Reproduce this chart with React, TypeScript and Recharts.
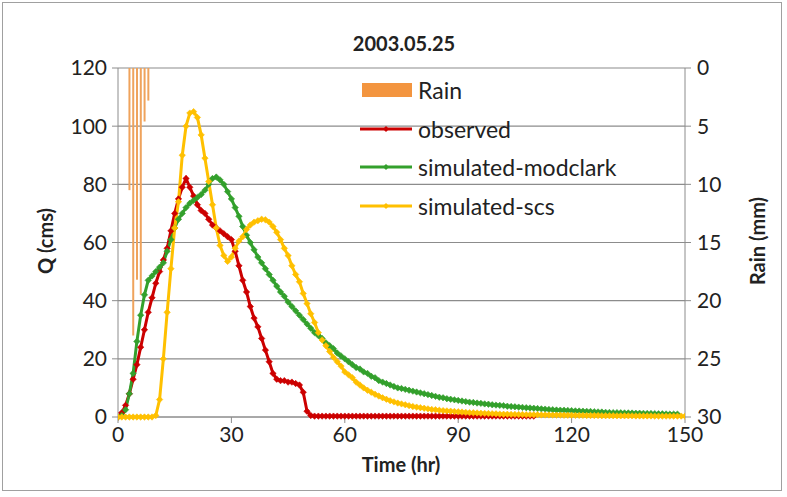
import React from 'react';
import { ComposedChart, Line, Bar, XAxis, YAxis, CartesianGrid } from 'recharts';

const FONT = 'Lato, "Open Sans", "Liberation Sans", sans-serif';

const hours: number[] = Array.from({ length: 151 }, (_, i) => i);

const rain: number[] = [0, 0, 0, 10.5, 23, 18.2, 19.5, 4.6, 2.8];

const observed: number[] = [
  0, 1.5, 4, 8, 13, 18, 24, 30, 36, 41, 46, 50, 54, 58, 64, 70, 75, 79, 82, 79,
  76, 73, 71, 70, 68, 66, 65, 64, 63, 62, 61, 57, 52, 47, 43, 38, 34, 31, 27, 23,
  19, 15, 13, 12.5, 12.5, 12, 12, 11.5, 11, 8.5, 2, 0.5,
  0.3, 0.3, 0.3, 0.3, 0.3, 0.3, 0.3, 0.3, 0.3, 0.3, 0.3, 0.3, 0.3, 0.3, 0.3, 0.3,
  0.3, 0.3, 0.3, 0.3, 0.3, 0.3, 0.3, 0.3, 0.3, 0.3, 0.3, 0.3, 0.3, 0.3, 0.3, 0.3,
  0.3, 0.3, 0.3, 0.3, 0.3, 0.3, 0.3, 0.3, 0.3, 0.3, 0.3, 0.3, 0.3, 0.3, 0.3, 0.3,
  0.3, 0.3, 0.3, 0.3, 0.3, 0.3, 0.3, 0.3, 0.3, 0.3, 0.3,
];

const modclark: number[] = [
  0, 0.5, 2.5, 8, 15, 26, 35, 42, 47, 48.5, 50, 51.5, 53, 57, 61, 65, 68, 70, 72, 73.5,
  74.5, 75.5, 76.5, 78, 80, 82, 82.5, 81.5, 80, 77.5, 75, 72, 69, 65.5, 62.5, 60, 57.5, 55, 53, 51,
  49, 47, 45, 43, 41.5, 39.5, 38, 36.5, 35, 33.5, 32, 30.5, 29, 28, 27, 25.5, 24.5, 23.5, 22, 21,
  20, 19, 18, 17, 16.5, 15.5, 15, 14, 13.5, 12.5, 12, 11.5, 11, 10.5, 10, 9.8, 9.5, 9.2, 8.9, 8.6,
  8.3, 8, 7.7, 7.4, 7.1, 6.8, 6.6, 6.3, 6.1, 5.9, 5.7, 5.5, 5.3, 5.1, 5, 4.8, 4.7, 4.5, 4.4, 4.2,
  4.1, 4, 3.9, 3.7, 3.6, 3.5, 3.4, 3.3, 3.2, 3.1, 3, 2.9, 2.8, 2.7, 2.6, 2.5, 2.4, 2.35, 2.3, 2.25,
  2.2, 2.1, 2.05, 2, 1.95, 1.9, 1.8, 1.75, 1.7, 1.6, 1.55, 1.5, 1.5, 1.45, 1.4, 1.4, 1.35, 1.3, 1.3, 1.25,
  1.2, 1.2, 1.15, 1.1, 1.1, 1.05, 1, 1, 1,
];

const scs: number[] = [
  0, 0, 0, 0, 0, 0, 0, 0, 0, 0, 0.5, 6, 20, 36, 51, 65, 74, 90, 100, 104.5,
  105, 103, 97, 89, 81, 73, 65, 59, 55.5, 53.5, 55, 58, 60.5, 62, 64.5, 66, 67, 67.5, 68, 67.8,
  67, 65.5, 63.5, 61, 58, 55.5, 52, 49, 46.5, 42.5, 39, 35.5, 32.5, 29, 26.5, 24.5, 22.5, 20.5, 19, 17.5,
  15.5, 14.5, 13.5, 12, 11, 10, 9.2, 8.5, 7.8, 7.2, 6.6, 6.1, 5.6, 5.2, 4.8, 4.5, 4.2, 3.9, 3.6, 3.4,
  3.2, 3, 2.8, 2.6, 2.5, 2.3, 2.2, 2.1, 2, 1.9, 1.8, 1.7, 1.6, 1.5, 1.45, 1.4, 1.3, 1.25, 1.2, 1.15,
  1.1, 1, 0.95, 0.95, 0.9, 0.9, 0.85, 0.85, 0.8, 0.8, 0.75, 0.75, 0.7, 0.7, 0.7, 0.65, 0.65, 0.65, 0.6, 0.6,
  0.6, 0.55, 0.55, 0.55, 0.5, 0.5, 0.5, 0.5, 0.45, 0.45, 0.45, 0.45, 0.4, 0.4, 0.4, 0.4, 0.4, 0.35, 0.35, 0.35,
  0.35, 0.35, 0.3, 0.3, 0.3, 0.3, 0.3, 0.3, 0.3, 0.3, 0.3,
];

const qTicks = [0, 20, 40, 60, 80, 100, 120];
const rainTicks = [0, 5, 10, 15, 20, 25, 30];
const timeTicks = [0, 30, 60, 90, 120, 150];

const COLORS = {
  rain: '#F3953F',
  rainBar: '#EFA35C',
  observed: '#CC0000',
  modclark: '#33A02C',
  scs: '#FFC000',
  grid: '#8C8C8C',
};

const seriesNames = {
  rain: 'Rain',
  observed: 'observed',
  modclark: 'simulated-modclark',
  scs: 'simulated-scs',
};

const data = hours.map((h, i) => ({
  h,
  rain: rain[i] != null && rain[i] > 0 ? rain[i] : null,
  observed: observed[i] != null ? observed[i] : null,
  modclark: modclark[i] != null ? modclark[i] : null,
  scs: scs[i] != null ? scs[i] : null,
}));

const makeDot = (color: string) => (props: any) => {
  const { cx, cy, value, index } = props;
  if (value == null || cx == null || cy == null || isNaN(cy)) return <g key={`d-${index}`} />;
  const s = 3.2;
  return (
    <path
      key={`d-${index}`}
      d={`M${cx},${cy - s} L${cx + s},${cy} L${cx},${cy + s} L${cx - s},${cy} Z`}
      fill={color}
      stroke={color}
      strokeWidth={0.6}
    />
  );
};

const LegendBox = () => {
  const rows = [
    { key: 'rain', type: 'rect', color: COLORS.rain },
    { key: 'observed', type: 'line', color: COLORS.observed },
    { key: 'modclark', type: 'line', color: COLORS.modclark },
    { key: 'scs', type: 'line', color: COLORS.scs },
  ];
  return (
    <div
      style={{
        position: 'absolute', left: 358, top: 71, width: 300,
        fontFamily: FONT, fontSize: 23, color: '#222',
      }}
    >
      {rows.map((r) => (
        <div key={r.key} style={{ display: 'flex', alignItems: 'center', height: 38.5 }}>
          <svg width={56} height={16} style={{ display: 'block' }}>
            {r.type === 'rect' ? (
              <rect x={4} y={1} width={50} height={14} fill={r.color} />
            ) : (
              <g>
                <line x1={2} y1={8} x2={54} y2={8} stroke={r.color} strokeWidth={3} />
                <path d="M28,5 L31,8 L28,11 L25,8 Z" fill={r.color} />
              </g>
            )}
          </svg>
          <span style={{ marginLeft: 4, lineHeight: '38px' }}>{(seriesNames as any)[r.key]}</span>
        </div>
      ))}
    </div>
  );
};

const tickStyle = { fontFamily: FONT, fontSize: 21, fill: '#222' };

export default function App() {
  return (
    <div style={{ position: 'absolute', left: 0, top: 0, width: 787, height: 497, background: '#fff' }}>
      <div
        style={{
          position: 'absolute', left: 2, top: 2, width: 780, height: 489,
          border: '1px solid #A0A0A0', boxSizing: 'border-box',
        }}
      />
      <ComposedChart
        width={787}
        height={497}
        data={data}
        margin={{ top: 68, right: 42, bottom: 40, left: 58 }}
        style={{ position: 'absolute', left: 0, top: 0 }}
      >
        <CartesianGrid yAxisId="q" vertical={false} stroke={COLORS.grid} strokeWidth={1.2} />
        <XAxis
          dataKey="h"
          type="number"
          domain={[0, 150]}
          ticks={timeTicks}
          allowDataOverflow
          height={40}
          stroke={COLORS.grid}
          tickSize={6}
          tickMargin={4}
          tick={tickStyle}
        />
        <YAxis
          yAxisId="q"
          domain={[0, 120]}
          ticks={qTicks}
          width={60}
          stroke={COLORS.grid}
          tickSize={6}
          tickMargin={5}
          tick={tickStyle}
        />
        <YAxis
          yAxisId="rain"
          orientation="right"
          reversed
          domain={[0, 30]}
          ticks={rainTicks}
          width={60}
          stroke={COLORS.grid}
          tickSize={6}
          tickMargin={6}
          tick={tickStyle}
        />
        <Bar yAxisId="rain" dataKey="rain" name="Rain" fill={COLORS.rainBar} barSize={2} isAnimationActive={false} />
        <Line
          yAxisId="q" dataKey="observed" name="observed" stroke={COLORS.observed} strokeWidth={3}
          dot={makeDot(COLORS.observed)} activeDot={false} isAnimationActive={false} type="linear"
        />
        <Line
          yAxisId="q" dataKey="modclark" name="simulated-modclark" stroke={COLORS.modclark} strokeWidth={3}
          dot={makeDot(COLORS.modclark)} activeDot={false} isAnimationActive={false} type="linear"
        />
        <Line
          yAxisId="q" dataKey="scs" name="simulated-scs" stroke={COLORS.scs} strokeWidth={3}
          dot={makeDot(COLORS.scs)} activeDot={false} isAnimationActive={false} type="linear"
        />
      </ComposedChart>
      <LegendBox />
      <div
        style={{
          position: 'absolute', left: 0, top: 31, width: 808, textAlign: 'center',
          fontFamily: FONT, fontWeight: 700, fontSize: 20, color: '#222',
        }}
      >
        2003.05.25
      </div>
      <div
        style={{
          position: 'absolute', left: 0, top: 452, width: 802, textAlign: 'center',
          fontFamily: FONT, fontWeight: 700, fontSize: 20, color: '#222',
        }}
      >
        Time (hr)
      </div>
      <div style={{ position: 'absolute', left: 45, top: 242, width: 0, height: 0 }}>
        <div
          style={{
            position: 'absolute', left: -100, top: -13, width: 200, textAlign: 'center',
            transform: 'rotate(-90deg)', fontFamily: FONT, fontWeight: 700, fontSize: 20, color: '#222',
            whiteSpace: 'nowrap',
          }}
        >
          Q (cms)
        </div>
      </div>
      <div style={{ position: 'absolute', left: 757, top: 242, width: 0, height: 0 }}>
        <div
          style={{
            position: 'absolute', left: -100, top: -13, width: 200, textAlign: 'center',
            transform: 'rotate(-90deg)', fontFamily: FONT, fontWeight: 700, fontSize: 20, color: '#222',
            whiteSpace: 'nowrap',
          }}
        >
          Rain (mm)
        </div>
      </div>
    </div>
  );
}
